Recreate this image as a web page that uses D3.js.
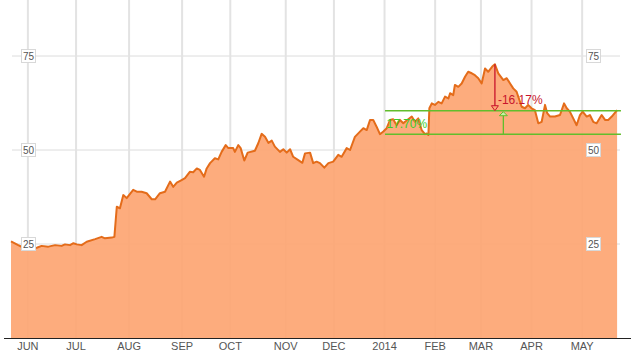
<!DOCTYPE html>
<html><head><meta charset="utf-8">
<script src="https://cdn.jsdelivr.net/npm/d3@7/dist/d3.min.js"></script>
<style>
html,body{margin:0;padding:0;background:#fff;}
svg{display:block;}
</style></head>
<body>
<svg id="chart" width="631" height="361"></svg>
<script>
// ---- data ----
const monthLabels = ["JUN","JUL","AUG","SEP","OCT","NOV","DEC","2014","FEB","MAR","APR","MAY"];
const monthStartDay = [7,27,49,71,91,114,134,155,176,195,216,237]; // trading-day index
const yTicks = [25,50,75];
const priceDay = [0,3,4.6,6.2,10.7,12.7,15.5,18.3,21,22.4,24.5,25.9,27.3,29.3,31.4,34.9,37.6,39,41.8,42.9,
 43.9,45.2,46.6,48,50.7,52.2,54.2,56.3,58.4,59.8,61.8,63.9,66,67.3,68.8,70.8,72.2,74.2,75.6,77.1,78.4,80.1,
 81.2,82.6,84.6,86,87.4,89.1,90.2,92.2,92.9,94.3,95.3,96.8,98.2,101.2,102.6,104,105.4,106.8,108.2,109.5,
 111.6,113,114.4,115.8,117.1,119.2,120.9,122,124.1,125.4,126.8,128.2,130,131.7,133.7,135.8,137.2,139.3,
 140.7,142.7,144.8,146.2,147.6,149,150.3,151.7,153.1,154.5,155.9,157.3,158.6,160,161.4,162.8,163.5,166.3,
 167.6,169,170.4,171.8,172.5,173.2,173.6,174.6,175.9,177.3,178.7,180.1,181.5,182.2,183.5,184.2,185.6,187,
 188.4,189.7,191.2,192.5,193.9,195.3,196.7,198,199.7,200.8,202.2,204.3,205.7,207.1,208.4,209.8,211.9,213.3,
 214.6,216,217.4,218.8,220.2,221.6,222.5,223.7,225.7,227.8,229.5,230.6,231.9,233.3,234.7,236.1,237.2,238.9,
 240.2,241.6,243,245.1,246.5,247.8,249.3,251.5];
const priceValue = [25.7,24.7,24.2,23.8,24.0,24.5,24.3,24.7,24.5,24.9,24.7,25.2,24.9,24.7,25.6,26.3,26.9,26.5,26.7,26.9,
 34.9,34.5,38.0,37.2,39.4,38.9,38.9,38.5,36.9,36.9,38.5,38.9,41.6,40.2,41.3,42.0,42.5,44.2,44.1,45.1,44.7,42.9,
 45.1,46.5,47.8,47.5,49.5,51.3,50.5,50.5,49.5,51.3,50.5,47.2,49.3,49.8,51.8,54.3,53.5,51.9,52.5,50.9,
 49.5,50.2,49.3,50.2,48.2,47.3,46.6,49.1,49.3,46.5,46.9,46.5,45.3,46.5,46.9,48.7,48.2,50.5,
 50.0,53.5,54.9,55.8,55.3,58.0,58.0,56.2,54.2,54.9,55.8,58.0,58.2,56.6,58.0,57.1,57.5,58.9,
 57.5,58.4,55.3,54.2,54.4,54.0,61.1,62.4,62.0,62.8,62.4,64.2,63.7,65.1,64.6,67.3,66.8,67.7,
 69.5,70.8,70.4,69.9,69.1,67.7,71.7,70.8,72.2,72.8,70.4,68.6,69.1,67.7,66.4,65.5,61.5,61.1,
 62.0,61.1,60.6,57.1,57.5,62.0,59.8,58.9,58.9,59.3,62.4,61.1,60.2,58.4,56.6,59.3,60.2,58.9,
 59.3,57.5,57.1,59.3,58.0,58.0,58.9,60.6];
const levelHigh = 60.45, levelLow = 54.2;
const levelStartDay = 155.2, levelEndDay = 253.1;
const peakDay = 200.8, peakValue = 72.8;
const riseDay = 204.3;
const dropLabel = "-16.17%", riseLabel = "17.70%";

// ---- drawing ----
const svg = d3.select("#chart");
const x = d3.scaleLinear().domain([0,252]).range([11,618.3]);
const y = d3.scaleLinear().domain([0,75]).range([338,56]);

// horizontal grid
svg.append("g").selectAll("line").data(yTicks).join("line")
  .attr("x1",12).attr("x2",620).attr("y1",d=>y(d)).attr("y2",d=>y(d))
  .attr("stroke","#dcdcdc").attr("stroke-width",1);
// vertical grid
svg.append("g").selectAll("line").data(monthStartDay).join("line")
  .attr("x1",d=>x(d)).attr("x2",d=>x(d)).attr("y1",0).attr("y2",338)
  .attr("stroke","#e3e3e3").attr("stroke-width",2);

const pts = priceDay.map((d,i)=>[d,priceValue[i]]);
const area = d3.area().x(d=>x(d[0])).y0(y(0)).y1(d=>y(d[1]));
const line = d3.line().x(d=>x(d[0])).y(d=>y(d[1]));
svg.append("path").datum(pts).attr("d",area).attr("fill","#fda673").attr("fill-opacity",0.93);
svg.append("path").datum(pts).attr("d",line).attr("fill","none")
  .attr("stroke","#e46c1a").attr("stroke-width",2).attr("stroke-linejoin","round");

// x axis
svg.append("line").attr("x1",4).attr("x2",631).attr("y1",338.5).attr("y2",338.5)
  .attr("stroke","#222").attr("stroke-width",1);
svg.append("g").selectAll("text").data(monthLabels).join("text")
  .attr("x",(d,i)=>x(monthStartDay[i])).attr("y",350)
  .attr("text-anchor","middle")
  .attr("font-family","'Liberation Sans Narrow','Arial Narrow','Liberation Sans',Arial,sans-serif")
  .attr("font-size",11).attr("fill","#555").text(d=>d);

// y labels (boxed, left and right)
function yLabels(cx){
  const g = svg.append("g").selectAll("g").data(yTicks).join("g")
    .attr("transform",d=>`translate(${cx},${y(d)})`);
  g.append("rect").attr("x",-7).attr("y",-6.5).attr("width",14).attr("height",13)
    .attr("fill","#fff").attr("stroke","#d8d8d8").attr("stroke-width",1);
  g.append("text").attr("text-anchor","middle").attr("y",3.5)
    .attr("font-family","'Liberation Sans',Arial,sans-serif").attr("font-size",10)
    .attr("fill","#555").text(d=>d);
}
yLabels(28.5);
yLabels(593.5);

// level lines
const green = "#62bd2c";
svg.append("g").selectAll("line").data([levelHigh,levelLow]).join("line")
  .attr("x1",x(levelStartDay)).attr("x2",x(levelEndDay))
  .attr("y1",d=>y(d)).attr("y2",d=>y(d))
  .attr("stroke",green).attr("stroke-width",1.5);

// red drop arrow
const red = "#c8142c";
svg.append("line").attr("x1",x(peakDay)).attr("x2",x(peakDay))
  .attr("y1",y(peakValue)).attr("y2",y(levelHigh)-3)
  .attr("stroke",red).attr("stroke-width",1.3);
svg.append("path")
  .attr("d",`M${x(peakDay)-3.5},${y(levelHigh)-5} L${x(peakDay)+3.5},${y(levelHigh)-5} L${x(peakDay)},${y(levelHigh)} Z`)
  .attr("fill","#fda673").attr("stroke",red).attr("stroke-width",1);
svg.append("text").attr("x",x(peakDay)+3).attr("y",104)
  .attr("font-family","'Liberation Sans',Arial,sans-serif").attr("font-size",12)
  .attr("fill",red).text(dropLabel);

// green rise arrow
svg.append("line").attr("x1",x(riseDay)).attr("x2",x(riseDay))
  .attr("y1",y(levelLow)).attr("y2",y(levelHigh)+3)
  .attr("stroke",green).attr("stroke-width",1.3);
svg.append("path")
  .attr("d",`M${x(riseDay)-4},${y(levelHigh)+5} L${x(riseDay)+4},${y(levelHigh)+5} L${x(riseDay)},${y(levelHigh)+1} Z`)
  .attr("fill","#c9f0a8").attr("stroke",green).attr("stroke-width",1);
svg.append("text").attr("x",x(levelStartDay)+1.5).attr("y",127.5)
  .attr("font-family","'Liberation Sans',Arial,sans-serif").attr("font-size",12)
  .attr("fill","#3acc2a").text(riseLabel);
</script>
</body></html>
